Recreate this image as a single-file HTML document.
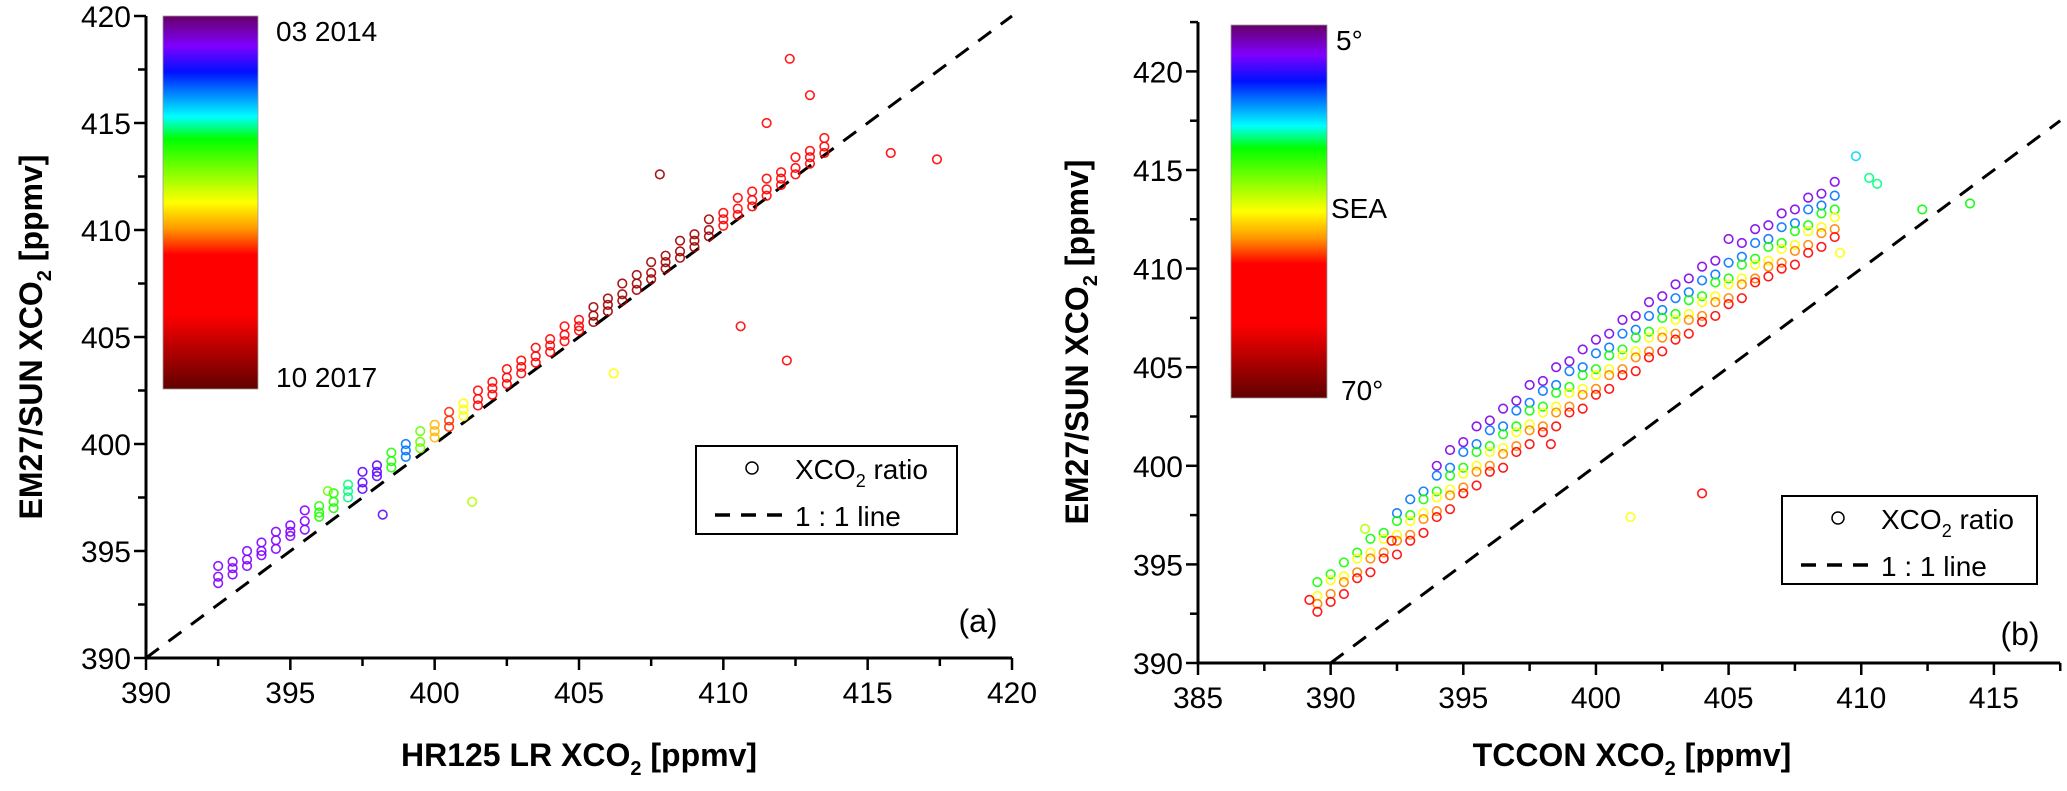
<!DOCTYPE html>
<html><head><meta charset="utf-8">
<style>
html,body{margin:0;padding:0;background:#fff;}
svg{display:block;font-family:"Liberation Sans",Arial,sans-serif;}
</style></head>
<body>
<svg id="fig" width="2067" height="791" viewBox="0 0 2067 791" xmlns="http://www.w3.org/2000/svg">
<defs>
<linearGradient id="cmap" x1="0" y1="0" x2="0" y2="1">
<stop offset="0" stop-color="#660066"/>
<stop offset="0.08" stop-color="#8000ff"/>
<stop offset="0.15" stop-color="#0010ff"/>
<stop offset="0.27" stop-color="#00ffff"/>
<stop offset="0.33" stop-color="#00ff00"/>
<stop offset="0.5" stop-color="#ffff00"/>
<stop offset="0.57" stop-color="#ff9900"/>
<stop offset="0.64" stop-color="#ff0000"/>
<stop offset="0.8" stop-color="#ff0000"/>
<stop offset="1" stop-color="#600000"/>
</linearGradient>
</defs>
<g id="panelA"></g>
<g id="panelB"></g>
</svg>
<script>
// ---------- Panel (a) data ----------
const aX = [392.5,393,393.5,394,394.5,395,395.5,396,396.5,397,397.5,398,398.5,399,399.5,400,400.5,401,401.5,402,402.5,403,403.5,404,404.5,405,405.5,406,406.5,407,407.5,408,408.5,409,409.5,410,410.5,411,411.5,412,412.5,413,413.5];
const aMid = [393.8,394.2,394.6,395.0,395.5,395.9,396.4,396.8,397.3,397.8,398.2,398.7,399.2,399.7,400.1,400.6,401.1,401.6,402.1,402.6,403.1,403.6,404.1,404.6,405.1,405.5,406.0,406.5,407.0,407.5,408.0,408.5,409.0,409.5,410.0,410.5,411.0,411.4,411.9,412.4,412.9,413.4,413.9];
const aUpper = [394.3,394.5,395.0,395.4,395.9,396.2,396.9,397.1,397.7,398.1,398.7,399.0,399.6,400.0,400.6,400.9,401.5,401.9,402.5,402.9,403.5,403.9,404.5,404.9,405.5,405.8,406.4,406.8,407.5,407.9,408.5,408.8,409.5,409.8,410.5,410.8,411.5,411.8,412.4,412.7,413.4,413.7,414.3];
const aLower = [393.5,393.9,394.3,394.8,395.1,395.7,396.0,396.6,397.0,397.5,397.9,398.5,398.9,399.4,399.8,400.3,400.8,401.3,401.8,402.3,402.8,403.3,403.8,404.3,404.8,405.3,405.7,406.2,406.7,407.2,407.7,408.2,408.7,409.2,409.7,410.2,410.7,411.1,411.6,412.1,412.6,413.1,413.6];
const aColor = [0.08,0.08,0.08,0.08,0.08,0.08,0.08,0.35,0.35,0.3,0.1,0.1,0.35,0.2,0.4,0.55,0.62,0.5,0.7,0.72,0.72,0.72,0.72,0.72,0.72,0.72,0.92,0.92,0.92,0.92,0.92,0.92,0.92,0.92,0.92,0.72,0.72,0.72,0.72,0.72,0.72,0.72,0.72];
const aOutX = [412.3,412.2,410.6,417.4,415.8,396.3,401.3,398.2,407.8,411.5,413.0,406.2];
const aOutY = [418.0,403.9,405.5,413.3,413.6,397.8,397.3,396.7,412.6,415.0,416.3,403.3];
const aOutC = [0.72,0.72,0.7,0.72,0.7,0.4,0.45,0.1,0.92,0.72,0.72,0.5];
const aTicksX = [390,395,400,405,410,415,420];
const aTicksY = [390,395,400,405,410,415,420];

// ---------- Panel (b) data ----------
const bX = [389.5,390,390.5,391,391.5,392,392.5,393,393.5,394,394.5,395,395.5,396,396.5,397,397.5,398,398.5,399,399.5,400,400.5,401,401.5,402,402.5,403,403.5,404,404.5,405,405.5,406,406.5,407,407.5,408,408.5,409];
const bViolet = [null,null,null,null,null,null,null,null,null,400.0,400.8,401.2,402.0,402.3,402.9,403.3,404.1,404.3,405.0,405.3,405.9,406.4,406.7,407.4,407.6,408.3,408.6,409.2,409.5,410.1,410.4,411.5,411.3,412.0,412.2,412.8,413.0,413.6,413.8,414.4];
const bBlue = [null,null,null,null,null,null,397.6,398.3,398.7,399.5,399.9,400.7,401.1,401.8,402.0,402.8,403.2,403.8,404.1,404.8,405.0,405.7,406.0,406.7,406.9,407.6,407.9,408.5,408.8,409.4,409.7,410.3,410.6,411.3,411.5,412.1,412.3,413.0,413.2,413.7];
const bGreen = [394.1,394.5,395.1,395.6,396.3,396.6,397.2,397.5,398.3,398.7,399.5,399.9,400.7,401.0,401.6,402.0,402.8,403.0,403.7,404.0,404.6,404.9,405.6,405.9,406.5,406.8,407.5,407.7,408.4,408.6,409.3,409.5,410.2,410.5,411.1,411.3,411.9,412.2,412.8,413.0];
const bYellow = [393.4,394.2,394.4,395.3,395.6,396.3,396.5,397.2,397.6,398.4,398.8,399.6,400.0,400.7,400.9,401.7,402.1,402.7,403.0,403.7,403.9,404.6,404.9,405.6,405.8,406.5,406.8,407.4,407.7,408.3,408.6,409.2,409.5,410.2,410.4,411.0,411.2,411.9,412.1,412.6];
const bOrange = [393.0,393.5,394.1,394.6,395.3,395.6,396.2,396.5,397.3,397.7,398.5,398.9,399.7,400.0,400.6,401.0,401.8,402.0,402.7,403.0,403.6,403.9,404.6,404.9,405.5,405.8,406.5,406.7,407.4,407.6,408.3,408.5,409.2,409.5,410.1,410.3,410.9,411.2,411.8,412.0];
const bRed = [392.6,393.1,393.5,394.3,394.6,395.3,395.5,396.2,396.6,397.4,397.8,398.6,399.0,399.7,399.9,400.7,401.1,401.7,402.0,402.7,402.9,403.6,403.9,404.6,404.8,405.5,405.8,406.4,406.7,407.3,407.6,408.2,408.5,409.3,409.6,410.0,410.2,410.8,411.1,411.6];
const bSeriesColor = [0.07,0.2,0.34,0.5,0.58,0.7];
const bOutX = [410.6,412.3,414.1,409.2,404.0,401.3,398.3,391.3,392.3,409.8,410.3,389.2];
const bOutY = [414.3,413.0,413.3,410.8,398.6,397.4,401.1,396.8,396.2,415.7,414.6,393.2];
const bOutC = [0.3,0.33,0.33,0.5,0.68,0.5,0.68,0.45,0.68,0.25,0.3,0.68];
const bTicksX = [385,390,395,400,405,410,415];
const bTicksY = [390,395,400,405,410,415,420];

// ---------- helpers ----------
const NS = "http://www.w3.org/2000/svg";
function el(tag, attrs, parent, text){
  const e = document.createElementNS(NS, tag);
  for (const k in attrs) e.setAttribute(k, attrs[k]);
  if (text !== undefined) e.textContent = text;
  parent.appendChild(e);
  return e;
}
const stops = [[0,[102,0,102]],[0.08,[128,0,255]],[0.15,[0,16,255]],[0.27,[0,255,255]],[0.33,[0,255,0]],[0.5,[255,255,0]],[0.57,[255,153,0]],[0.64,[255,0,0]],[0.8,[255,0,0]],[1,[96,0,0]]];
function cmap(t){
  for (let i=1;i<stops.length;i++){
    if (t<=stops[i][0]){
      const a=stops[i-1], b=stops[i], f=(t-a[0])/(b[0]-a[0]);
      const c=a[1].map((v,j)=>Math.round(v+(b[1][j]-v)*f));
      return `rgb(${c[0]},${c[1]},${c[2]})`;
    }
  }
  return "rgb(96,0,0)";
}

function drawAxes(g, cfg){
  const {x0,y0,sx,sy,xmin,xmax,ymin,ymax,ticksX,ticksY} = cfg;
  const axes = el("g",{},g);
  
  
  const yl = el("line",{x1:x0,y1:y0,x2:x0,y2:sy(ymax),stroke:"#000","stroke-width":3},axes);
  
  
  const xl = el("line",{x1:x0-1,y1:y0,x2:sx(xmax),y2:y0,stroke:"#000","stroke-width":3},axes);
  
  
  for (let v=xmin; v<=xmax+0.01; v+=2.5){
    const major = ticksX.includes(v);
    el("line",{x1:sx(v),y1:y0,x2:sx(v),y2:y0+(major?12:8),stroke:"#000","stroke-width":2.5},axes);
  }
  for (let v=ymin; v<=ymax+0.01; v+=2.5){
    const major = ticksY.includes(v);
    el("line",{x1:x0,y1:sy(v),x2:x0-(major?12:8),y2:sy(v),stroke:"#000","stroke-width":2.5},axes);
  }
  ticksX.forEach(v=>{
    const t = el("text",{x:sx(v),y:y0+45,"font-size":30,"text-anchor":"middle"},axes,String(v));
    
    
  });
  ticksY.forEach(v=>{
    const t = el("text",{x:x0-15,y:sy(v)+11,"font-size":30,"text-anchor":"end"},axes,String(v));
    
    
  });
}

function point(g, x, y, t){
  const c = el("circle",{cx:x,cy:y,r:4.3,fill:"none",stroke:cmap(t),"stroke-width":1.6,"stroke-opacity":0.9},g);
  
  
}

function legend(g, bx, by, bw, bh){
  const lg = el("g",{},g);
  
  
  el("rect",{x:bx,y:by,width:bw,height:bh,fill:"#fff",stroke:"#000","stroke-width":2},lg);
  const e1 = el("g",{},lg);
  
  
  el("circle",{cx:bx+56,cy:by+22,r:6,fill:"none",stroke:"#000","stroke-width":1.5},e1);
  const t1 = el("text",{x:bx+99,y:by+33,"font-size":28},e1);
  t1.appendChild(document.createTextNode("XCO"));
  el("tspan",{"font-size":18,dy:8},t1,"2");
  el("tspan",{dy:-8},t1," ratio");
  const e2 = el("g",{},lg);
  
  
  el("line",{x1:bx+19,y1:by+69,x2:bx+92,y2:by+69,stroke:"#000","stroke-width":3.5,"stroke-dasharray":"15 11"},e2);
  el("text",{x:bx+99,y:by+80,"font-size":28},e2,"1 : 1 line");
}

function colorbar(g, x, y, w, h, labels){
  const cb = el("g",{},g);
  
  
  el("rect",{x:x,y:y,width:w,height:h,fill:"url(#cmap)",stroke:"#999","stroke-width":0.8},cb);
  labels.forEach(l=>{
    const t = el("text",{x:l[0],y:l[1],"font-size":28},cb,l[2]);
    
    
  });
}

function titles(g, xt, yt){
  const t1 = el("text",{x:xt[0],y:xt[1],"font-size":32,"font-weight":"bold","text-anchor":"middle"},g);
  
  
  t1.appendChild(document.createTextNode(xt[2]));
  el("tspan",{"font-size":20,dy:9},t1,"2");
  el("tspan",{dy:-9},t1," [ppmv]");
  const t2 = el("text",{x:0,y:0,"font-size":32,"font-weight":"bold","text-anchor":"middle",transform:`translate(${yt[0]},${yt[1]}) rotate(-90)`},g);
  
  
  t2.appendChild(document.createTextNode("EM27/SUN XCO"));
  el("tspan",{"font-size":20,dy:9},t2,"2");
  el("tspan",{dy:-9},t2," [ppmv]");
}

// ---------- Panel (a) ----------
(function(){
  const g = document.getElementById("panelA");
  const x0=146, y0=658;
  const sx = v => x0 + (v-390)*(1012-146)/30;
  const sy = v => y0 - (v-390)*(658-16)/30;
  drawAxes(g,{x0,y0,sx,sy,xmin:390,xmax:420,ymin:390,ymax:420,ticksX:aTicksX,ticksY:aTicksY});
  const ln = el("line",{x1:sx(390),y1:sy(390),x2:sx(420),y2:sy(420),stroke:"#000","stroke-width":3,"stroke-dasharray":"16 12"},g);
  
  
  const pts = el("g",{},g);
  
  
  [aLower,aMid,aUpper].forEach(s=>{
    aX.forEach((xv,i)=>{ if (s[i]!==null) point(pts, sx(xv), sy(s[i]), aColor[i]); });
  });
  aOutX.forEach((xv,i)=>point(pts, sx(xv), sy(aOutY[i]), aOutC[i]));
  colorbar(g,163,16,95,373,[[276,41,"03 2014"],[276,387,"10 2017"]]);
  legend(g,696,446,261,88);
  const pl = el("text",{x:978,y:632,"font-size":32,"text-anchor":"middle"},g,"(a)");
  
  
  titles(g,[579,766,"HR125 LR XCO"],[42,337]);
})();

// ---------- Panel (b) ----------
(function(){
  const g = document.getElementById("panelB");
  const x0=1198, y0=663;
  const sx = v => x0 + (v-385)*26.53;
  const sy = v => y0 - (v-390)*19.72;
  drawAxes(g,{x0,y0,sx,sy,xmin:385,xmax:417.5,ymin:390,ymax:422.5,ticksX:bTicksX,ticksY:bTicksY});
  const ln = el("line",{x1:sx(390),y1:sy(390),x2:sx(417.5),y2:sy(417.5),stroke:"#000","stroke-width":3,"stroke-dasharray":"16 12"},g);
  
  
  const pts = el("g",{},g);
  
  
  [bViolet,bBlue,bGreen,bYellow,bOrange,bRed].forEach((s,k)=>{
    bX.forEach((xv,i)=>{ if (s[i]!==null) point(pts, sx(xv), sy(s[i]), bSeriesColor[k]); });
  });
  bOutX.forEach((xv,i)=>point(pts, sx(xv), sy(bOutY[i]), bOutC[i]));
  colorbar(g,1231,25,96,373,[[1336,50,"5°"],[1331,218,"SEA"],[1341,400,"70°"]]);
  legend(g,1782,496,255,88);
  const pl = el("text",{x:2020,y:645,"font-size":32,"text-anchor":"middle"},g,"(b)");
  
  
  titles(g,[1632,766,"TCCON XCO"],[1088,342]);
})();
</script>
</body></html>
